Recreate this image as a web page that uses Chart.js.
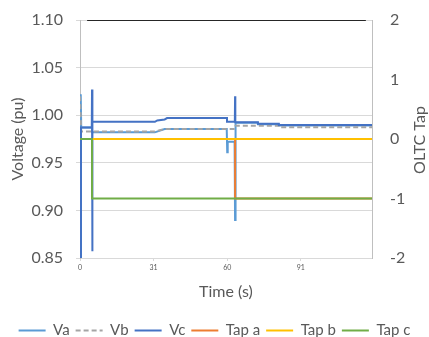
<!DOCTYPE html>
<html><head><meta charset="utf-8">
<script src="https://cdn.jsdelivr.net/npm/chart.js@4/dist/chart.umd.min.js"></script>
<style>html,body{margin:0;padding:0;background:#fff;}</style>
</head><body>
<canvas id="c" width="429" height="337"></canvas>
<script>
// ---- data (x = sample index on the category-like time axis) ----
const xTickPositions = [0, 30, 60, 90];
const xTickLabels = ["0", "31", "60", "91"];
const seriesNames = ["Va", "Vb", "Vc", "Tap a", "Tap b", "Tap c"];

const vaTime   = [0, 0.3, 0.5, 4.8, 5.0, 30.5, 34.5, 59.8, 60.0, 60.2, 63.0, 63.2, 63.4, 72.5, 72.5, 81, 81, 119];
const vaValues = [0.85, 1.022, 0.987, 0.987, 0.982, 0.982, 0.9855, 0.9855, 0.961, 0.972, 0.972, 0.89, 0.992, 0.992, 0.9905, 0.9905, 0.9893, 0.9893];

const vbTime   = [0, 0.5, 30.5, 34.5, 63.2, 63.4, 81, 81, 119];
const vbValues = [1.02, 0.983, 0.983, 0.9855, 0.9855, 0.989, 0.989, 0.9873, 0.9873];

const vcTime   = [0, 0.4, 4.8, 4.9, 5.0, 5.1, 30.5, 31.5, 34.5, 35.5, 59.9, 59.9, 63.1, 63.2, 63.3, 72.5, 72.5, 81, 81, 119];
const vcValues = [0.85, 0.987, 0.987, 1.027, 0.857, 0.993, 0.993, 0.9945, 0.9955, 0.997, 0.997, 0.993, 0.993, 1.02, 0.9925, 0.9925, 0.991, 0.991, 0.9897, 0.9897];

const tapATime   = [0, 63.2, 63.2, 119];
const tapAValues = [0, 0, -1, -1];
const tapBTime   = [0, 119];
const tapBValues = [0, 0];
const tapCTime   = [0, 4.9, 4.9, 119];
const tapCValues = [0, 0, -1, -1];

const limitTime   = [2.9, 116.5];
const limitValues = [1.10, 1.10];

// ---- helpers ----
const pts = (t, v) => t.map((x, i) => ({ x: x, y: v[i] }));
const GRAY_TXT = '#595959';
Chart.defaults.font.family = "Lato, 'Open Sans', sans-serif";
Chart.defaults.color = GRAY_TXT;

function line(label, t, v, color, axis, order, dash) {
  return {
    label: label, data: pts(t, v), yAxisID: axis, order: order,
    borderColor: color, backgroundColor: color, borderWidth: 2,
    borderDash: dash || [], pointRadius: 0, tension: 0, fill: false
  };
}

const rightTitle = {
  id: 'rightTitle',
  afterDraw(chart) {
    const ctx = chart.ctx;
    ctx.save();
    ctx.font = "16px Lato, 'Open Sans', sans-serif";
    ctx.fillStyle = GRAY_TXT;
    ctx.textAlign = 'center';
    ctx.textBaseline = 'middle';
    ctx.translate(420, 140);
    ctx.rotate(-Math.PI / 2);
    ctx.fillText('OLTC Tap', 0, 0);
    ctx.restore();
  }
};

const legendShift = {
  id: 'legendShift',
  afterLayout(chart) {
    const lg = chart.legend;
    if (lg) { const dy = 11; lg.top += dy; lg.bottom += dy; }
  }
};

const noVPad = (s) => { s.paddingTop = 0; s.paddingBottom = 0; };

new Chart(document.getElementById('c'), {
  type: 'line',
  data: {
    datasets: [
      line(seriesNames[0], vaTime, vaValues, '#5B9BD5', 'yV', 6),
      line(seriesNames[1], vbTime, vbValues, '#A5A5A5', 'yV', 5, [5, 3]),
      line(seriesNames[2], vcTime, vcValues, '#4472C4', 'yV', 4),
      line(seriesNames[3], tapATime, tapAValues, '#ED7D31', 'yT', 3),
      line(seriesNames[4], tapBTime, tapBValues, '#FFC000', 'yT', 2),
      line(seriesNames[5], tapCTime, tapCValues, '#70AD47', 'yT', 1),
      line('', limitTime, limitValues, '#262626', 'yV', 0)
    ]
  },
  options: {
    responsive: false, animation: false, devicePixelRatio: 1,
    layout: { padding: { left: 0, right: 0, top: 20, bottom: 0 } },
    plugins: {
      tooltip: { enabled: false },
      legend: {
        position: 'bottom',
        labels: {
          usePointStyle: true, pointStyle: 'line', pointStyleWidth: 27,
          font: { size: 15 }, color: GRAY_TXT, padding: 6,
          generateLabels: (chart) => {
            const items = Chart.defaults.plugins.legend.labels.generateLabels(chart);
            items.forEach(it => {
              const ds = chart.data.datasets[it.datasetIndex];
              it.lineDash = ds.borderDash;
              it.lineWidth = ds.borderWidth;
              it.strokeStyle = ds.borderColor;
            });
            return items;
          },
          filter: (it) => it.text !== '',
          sort: (a, b) => a.datasetIndex - b.datasetIndex
        }
      }
    },
    scales: {
      x: {
        type: 'linear', min: 0, max: 119,
        afterBuildTicks: (s) => { s.ticks = xTickPositions.map(v => ({ value: v })); },
        ticks: { callback: (v) => { const i = xTickPositions.indexOf(v); return i >= 0 ? xTickLabels[i] : ''; },
                 font: { size: 7 }, color: GRAY_TXT, padding: 3, maxRotation: 0 },
        grid: { drawOnChartArea: false, drawTicks: true, tickLength: 3, color: '#D9D9D9' },
        border: { color: '#D9D9D9' },
        title: { display: true, text: 'Time (s)', font: { size: 16 }, color: GRAY_TXT, padding: { top: 0, bottom: 5 } },
        afterFit: (s) => { s.height = 337 - 258 - s.chart.legend.height; }
      },
      yV: {
        position: 'left', min: 0.85, max: 1.10,
        ticks: { stepSize: 0.05, callback: (v) => Number(v).toFixed(2), font: { size: 16 }, color: GRAY_TXT, padding: 13 },
        grid: { color: '#D9D9D9', drawTicks: true, tickLength: 4 },
        border: { color: '#BFBFBF' },
        title: { display: true, text: 'Voltage (pu)', font: { size: 16 }, color: GRAY_TXT, padding: { top: 8, bottom: 0 } },
        afterFit: (s) => { s.width = 80; noVPad(s); }
      },
      yT: {
        position: 'right', min: -2, max: 2,
        ticks: { stepSize: 1, font: { size: 16 }, color: GRAY_TXT, padding: 18 },
        grid: { drawOnChartArea: false, drawTicks: false },
        border: { color: '#BFBFBF' },
        afterFit: (s) => { s.width = 57; noVPad(s); }
      }
    }
  },
  plugins: [rightTitle, legendShift]
});
</script>
</body></html>
